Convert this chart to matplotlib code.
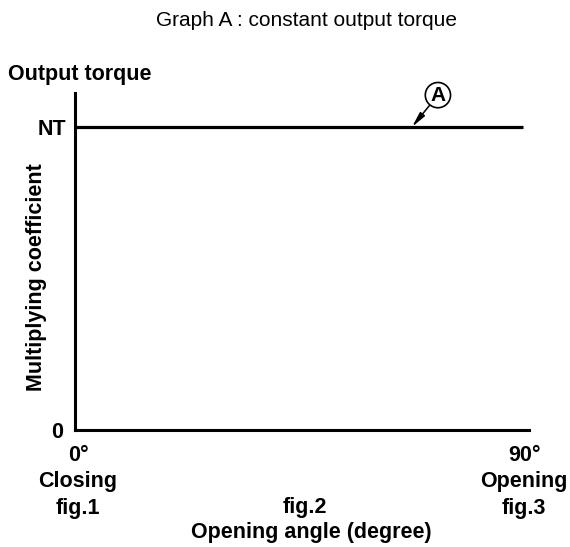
import matplotlib
matplotlib.use("Agg")
import matplotlib.pyplot as plt
from matplotlib.transforms import ScaledTranslation

angle = [0, 90]
torque = [1.0, 1.0]
ytick_pos = [0, 1.0]
ytick_labels = ["0", "NT"]
xtick_pos = [0, 90]
xtick_labels = ["0°\nClosing\nfig.1", "90°\nOpening\nfig.3"]

plt.rcParams['font.family'] = ['Liberation Sans', 'DejaVu Sans']
fs = 15.5

fig = plt.figure(figsize=(5.7, 5.47), dpi=100)
ax = fig.add_axes([0.1316, 0.2139, 0.7965, 0.6161])

ax.plot(angle, torque, color='black', lw=2.3, solid_capstyle='butt')
ax.set_xlim(0, 91.2)
ax.set_ylim(0, 1.112)

for s in ['top', 'right']:
    ax.spines[s].set_visible(False)
for s in ['left', 'bottom']:
    ax.spines[s].set_linewidth(2.2)

ax.set_yticks(ytick_pos)
ax.set_yticklabels(ytick_labels, fontsize=fs, fontweight='bold')
ax.set_xticks(xtick_pos)
ax.set_xticklabels(xtick_labels, fontsize=fs, fontweight='bold', linespacing=1.32)
ax.tick_params(length=0)
ax.tick_params(axis='y', pad=6)
ax.tick_params(axis='x', pad=11)

# nudge the bottom labels sideways like the original drawing
for lab, dx in zip(ax.get_xticklabels(), [3, 1]):
    lab.set_transform(lab.get_transform() + ScaledTranslation(dx / 100, 0, fig.dpi_scale_trans))
ylabs = ax.get_yticklabels()
ylabs[0].set_transform(ylabs[0].get_transform() + ScaledTranslation(-4 / 100, 0, fig.dpi_scale_trans))

ax.set_ylabel("Multiplying coefficient", fontsize=fs, fontweight='bold')
ax.yaxis.set_label_coords(-0.062, 0.454)
ax.set_xlabel("Opening angle (degree)", fontsize=fs, fontweight='bold')
ax.xaxis.set_label_coords(0.52, -0.272)
ax.text(0.507, -0.231, "fig.2", transform=ax.transAxes, ha='center', va='center',
        fontsize=fs, fontweight='bold')

fig.text(0.014, 0.863, "Output torque", fontsize=fs, fontweight='bold', va='center')
fig.text(0.537, 0.963, "Graph A : constant output torque", fontsize=15, ha='center', va='center')

ax.annotate("A", xy=(67.7, 1.0), xytext=(72.9, 1.105), ha='center', va='center',
            fontsize=15, fontweight='bold',
            bbox=dict(boxstyle='circle,pad=0.15', fc='white', ec='black', lw=1.2),
            arrowprops=dict(arrowstyle='-|>,head_length=0.6,head_width=0.12', color='black', lw=1.1,
                            shrinkA=0, shrinkB=0),
            annotation_clip=False)

fig.savefig("out.png", dpi=100)
